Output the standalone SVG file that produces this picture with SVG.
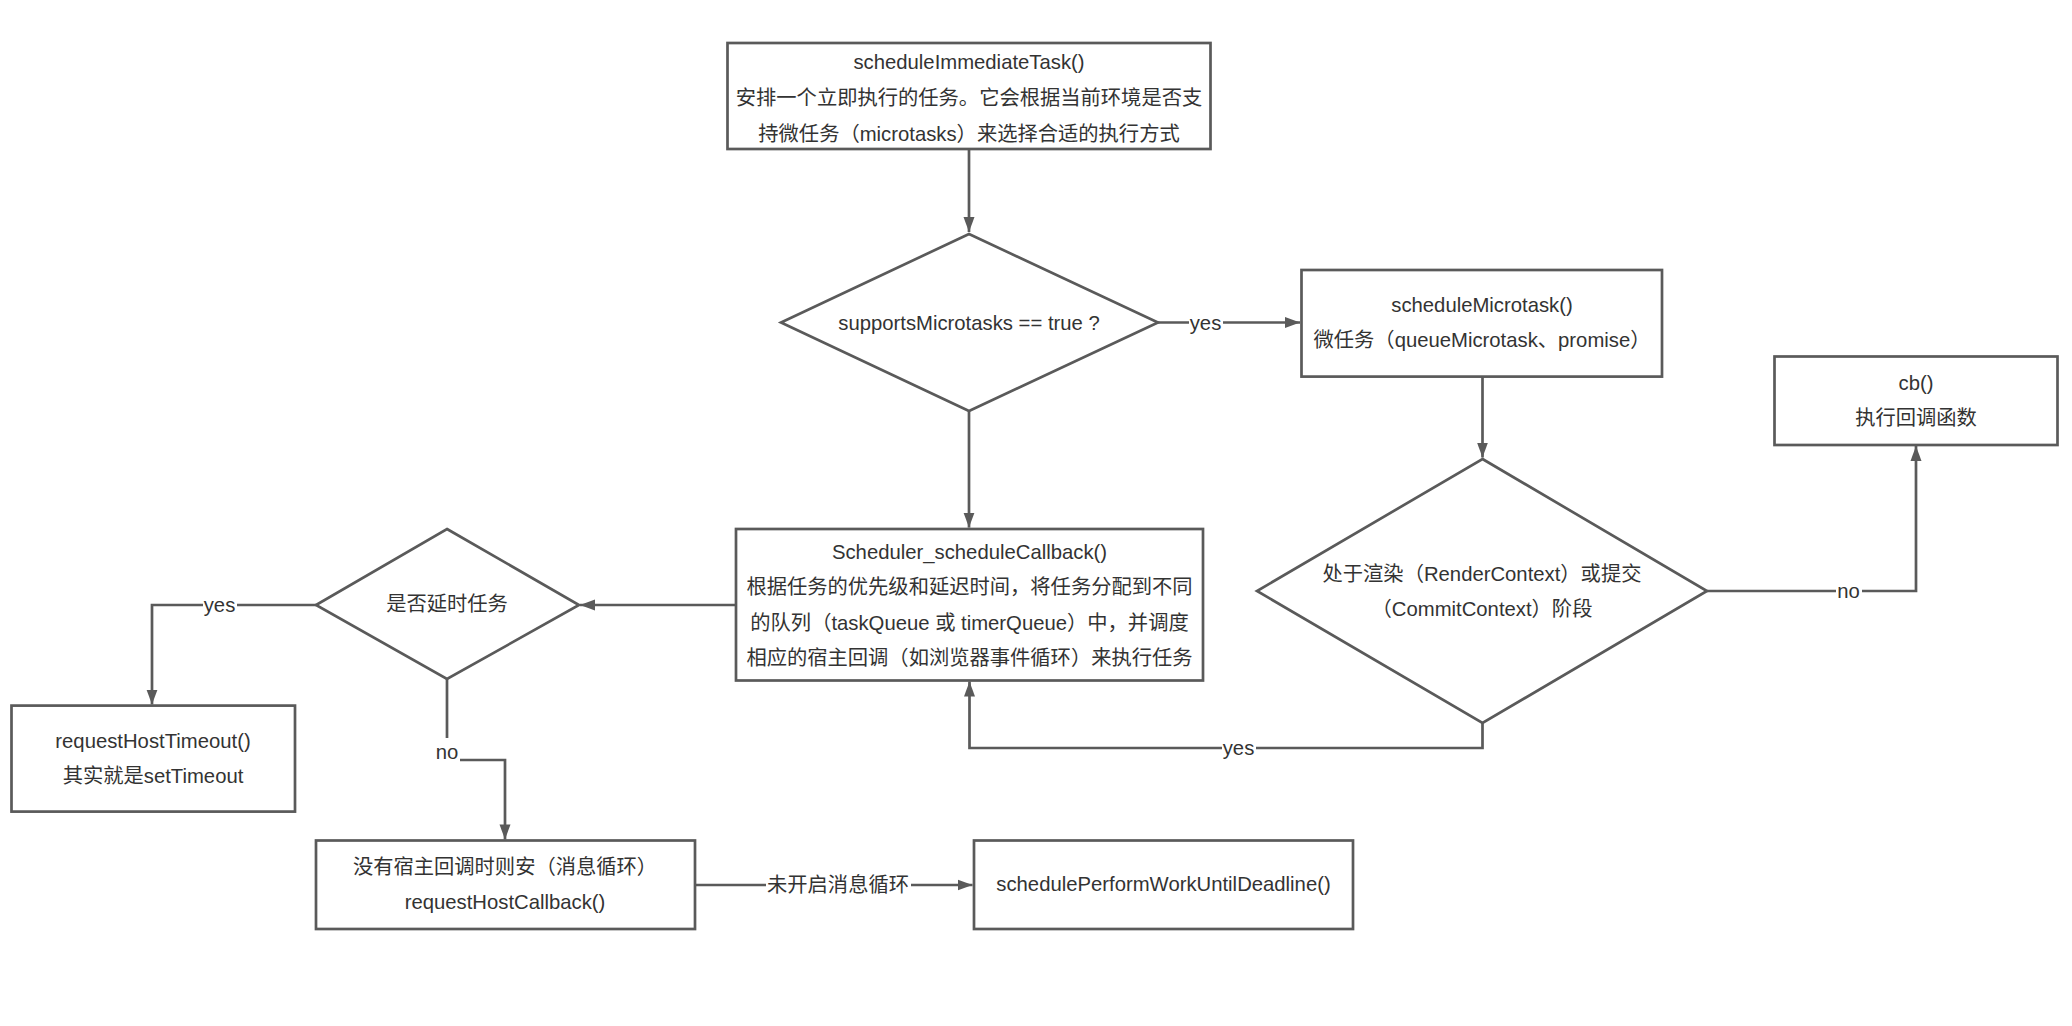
<svg xmlns="http://www.w3.org/2000/svg" width="2072" height="1026" viewBox="0 0 2072 1026">
<defs>
<style>
.shape{fill:#ffffff;stroke:#5a5a5a;stroke-width:2.7}
.edge{fill:none;stroke:#5a5a5a;stroke-width:2.7}
.t{font-family:"Liberation Sans","Noto Sans CJK SC",sans-serif;font-size:20.3px;fill:#333333;text-anchor:middle}
.lbg{fill:#ffffff}
</style>
<marker id="arr" markerWidth="16" markerHeight="12" refX="15" refY="6" orient="auto" markerUnits="userSpaceOnUse">
<path d="M0,0.5 L15,6 L0,11.5 z" fill="#5a5a5a"/>
</marker>
</defs>
<rect width="2072" height="1026" fill="#ffffff"/>

<g id="connectors">
<path class="edge" d="M969,149 V232" marker-end="url(#arr)"/>
<path class="edge" d="M1158,322.5 H1300" marker-end="url(#arr)"/>
<path class="edge" d="M1482.5,376.6 V457.5" marker-end="url(#arr)"/>
<path class="edge" d="M1707,591 H1916 V446" marker-end="url(#arr)"/>
<path class="edge" d="M1482.5,723 V748 H969.5 V681.5" marker-end="url(#arr)"/>
<path class="edge" d="M969,411 V527.6" marker-end="url(#arr)"/>
<path class="edge" d="M736,605 H580" marker-end="url(#arr)"/>
<path class="edge" d="M316,605 H152 V704.6" marker-end="url(#arr)"/>
<path class="edge" d="M447,679 V760 H505 V839.4" marker-end="url(#arr)"/>
<path class="edge" d="M695,885 H972.5" marker-end="url(#arr)"/>
<rect class="lbg" x="1189" y="310" width="34" height="24"/>
<text class="t" x="1205.5" y="329.5">yes</text>
<rect class="lbg" x="1836" y="579" width="26" height="24"/>
<text class="t" x="1848.5" y="598">no</text>
<rect class="lbg" x="1222" y="736" width="34" height="24"/>
<text class="t" x="1238.5" y="755">yes</text>
<rect class="lbg" x="203" y="593" width="34" height="24"/>
<text class="t" x="219.5" y="612">yes</text>
<rect class="lbg" x="434" y="738" width="26" height="28"/>
<text class="t" x="447" y="759">no</text>
<rect class="lbg" x="766" y="872" width="145" height="26"/>
<text class="t" x="838" y="892">未开启消息循环</text>
</g>

<g id="node-scheduleImmediateTask">
<rect class="shape" x="727.5" y="43" width="483" height="106"/>
<text class="t" x="969" y="69">scheduleImmediateTask()</text>
<text class="t" x="969" y="105">安排一个立即执行的任务。它会根据当前环境是否支</text>
<text class="t" x="969" y="140.5">持微任务（microtasks）来选择合适的执行方式</text>
</g>

<g id="node-supportsMicrotasks">
<polygon class="shape" points="969,234 1158,322.5 969,411 781,322.5"/>
<text class="t" x="969" y="329.5">supportsMicrotasks == true ?</text>
</g>

<g id="node-scheduleMicrotask">
<rect class="shape" x="1301.5" y="270" width="360.5" height="106.6"/>
<text class="t" x="1482" y="312">scheduleMicrotask()</text>
<text class="t" x="1482" y="347">微任务（queueMicrotask、promise）</text>
</g>

<g id="node-cb">
<rect class="shape" x="1774.5" y="356.5" width="283" height="88.5"/>
<text class="t" x="1916" y="390">cb()</text>
<text class="t" x="1916" y="425">执行回调函数</text>
</g>

<g id="node-context">
<polygon class="shape" points="1482.5,459 1707,591 1482.5,723 1257,591"/>
<text class="t" x="1482" y="581">处于渲染（RenderContext）或提交</text>
<text class="t" x="1482" y="616">（CommitContext）阶段</text>
</g>

<g id="node-scheduleCallback">
<rect class="shape" x="736" y="529" width="467" height="151.5"/>
<text class="t" x="969.5" y="558.5">Scheduler_scheduleCallback()</text>
<text class="t" x="969.5" y="594">根据任务的优先级和延迟时间，将任务分配到不同</text>
<text class="t" x="969.5" y="629.5">的队列（taskQueue 或 timerQueue）中，并调度</text>
<text class="t" x="969.5" y="665">相应的宿主回调（如浏览器事件循环）来执行任务</text>
</g>

<g id="node-isDelayed">
<polygon class="shape" points="447,529 579,605 447,679 316,605"/>
<text class="t" x="447" y="611">是否延时任务</text>
</g>

<g id="node-requestHostTimeout">
<rect class="shape" x="11.5" y="705.6" width="283.5" height="106"/>
<text class="t" x="153" y="748">requestHostTimeout()</text>
<text class="t" x="153" y="783">其实就是setTimeout</text>
</g>

<g id="node-requestHostCallback">
<rect class="shape" x="316" y="840.5" width="379" height="88.5"/>
<text class="t" x="505" y="874">没有宿主回调时则安（消息循环）</text>
<text class="t" x="505" y="909">requestHostCallback()</text>
</g>

<g id="node-schedulePerformWorkUntilDeadline">
<rect class="shape" x="974" y="840.5" width="379" height="88.5"/>
<text class="t" x="1163.5" y="891">schedulePerformWorkUntilDeadline()</text>
</g>
</svg>
